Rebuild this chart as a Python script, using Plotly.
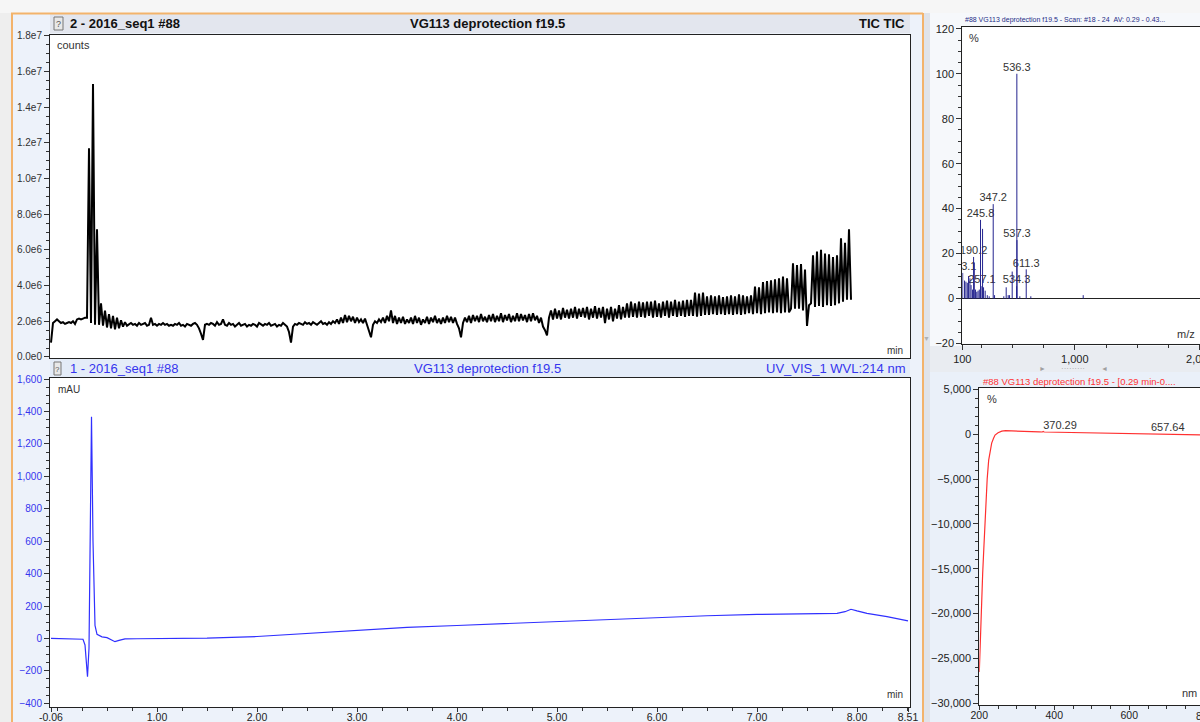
import numpy as np
import plotly.graph_objects as go

W, H = 1200, 722

# total ion current (millions of counts), one scan every 0.02 min from -0.06 min
tic_t0 = -0.06
tic_dt = 0.02
tic_mcounts = [
    0.8, 1.9, 2.0, 2.1, 2.0, 1.9, 1.95, 1.85, 1.9, 1.95, 1.9, 2.0, 1.85, 2.1, 2.15, 2.1, 2.15, 2.2, 2.2, 11.7,
    1.9, 15.3, 1.8, 7.15, 1.8, 3.0, 1.75, 2.6, 1.65, 2.4, 1.6, 2.3, 1.55, 2.2, 1.6, 2.05, 1.7, 1.95, 1.75, 1.85,
    1.9, 1.8, 1.85, 1.75, 1.9, 1.8, 1.85, 1.9, 1.75, 1.8, 2.2, 1.8, 1.85, 1.75, 1.85, 1.8, 1.9, 1.8, 1.85, 1.75,
    1.8, 1.75, 1.85, 1.8, 1.9, 1.75, 1.8, 1.7, 1.85, 1.8, 1.75, 1.85, 1.9, 1.8, 1.6, 1.3, 0.95, 1.8, 1.85, 1.8,
    1.9, 1.85, 1.75, 1.95, 1.8, 1.85, 2.1, 1.8, 1.75, 1.9, 1.8, 1.85, 1.7, 1.8, 1.9, 1.75, 1.8, 1.85, 1.7, 1.8,
    1.75, 1.85, 1.8, 1.7, 1.9, 1.8, 1.75, 1.85, 1.8, 1.9, 1.75, 1.8, 1.85, 1.7, 1.8, 1.75, 1.9, 1.8, 1.7, 1.4,
    0.8, 1.7, 1.85, 1.8, 1.9, 1.85, 1.8, 1.95, 1.85, 1.9, 1.8, 1.95, 1.85, 1.8, 1.9, 2.0, 1.85, 1.9, 1.8, 1.95,
    1.85, 2.0, 1.9, 2.1, 1.85, 2.2, 1.9, 2.35, 1.95, 2.3, 2.0, 2.25, 1.9, 2.2, 1.95, 2.1, 1.9, 2.15, 1.8, 1.5,
    1.1, 1.8, 2.0, 1.9, 2.1, 1.95, 2.2, 1.9, 2.3, 2.0, 2.6, 1.9, 2.3, 1.85, 2.2, 1.9, 2.25, 1.85, 2.1, 1.9,
    2.2, 1.85, 2.3, 1.9, 2.2, 1.8, 2.1, 1.9, 2.25, 1.85, 2.2, 1.95, 2.3, 1.9, 2.15, 1.85, 2.2, 1.9, 2.3, 1.95,
    2.25, 1.9, 2.2, 1.85, 1.6, 1.1, 1.9, 2.2, 1.95, 2.3, 1.9, 2.35, 2.0, 2.3, 1.95, 2.4, 2.0, 2.25, 1.95, 2.35,
    2.0, 2.4, 1.95, 2.3, 2.0, 2.45, 1.95, 2.35, 2.05, 2.4, 1.95, 2.3, 2.0, 2.45, 2.0, 2.4, 2.05, 2.35, 1.95, 2.4,
    2.0, 2.45, 2.05, 2.3, 1.9, 2.2, 1.7, 1.5, 1.2, 2.2, 2.6, 2.1, 2.7, 2.15, 2.6, 2.1, 2.75, 2.2, 2.65, 2.15,
    2.7, 2.2, 2.8, 2.15, 2.7, 2.25, 2.75, 2.2, 2.8, 2.1, 2.7, 2.2, 2.85, 2.15, 2.75, 2.2, 2.8, 1.9, 2.7, 2.1,
    2.8, 2.0, 2.7, 2.15, 2.9, 2.1, 2.8, 2.2, 3.0, 2.2, 3.1, 2.25, 3.0, 2.2, 3.1, 2.25, 3.05, 2.2, 3.1, 2.3,
    3.1, 2.2, 3.15, 2.25, 3.0, 2.2, 3.1, 2.3, 3.15, 2.2, 3.1, 2.3, 3.2, 2.25, 3.1, 2.3, 3.15, 2.25, 3.2, 2.3,
    3.2, 2.3, 3.6, 2.25, 3.55, 2.3, 3.6, 2.35, 3.4, 2.35, 3.45, 2.4, 3.4, 2.35, 3.45, 2.4, 3.35, 2.35, 3.4, 2.4,
    3.45, 2.35, 3.4, 2.4, 3.5, 2.35, 3.45, 2.4, 3.4, 2.45, 3.45, 2.4, 3.94, 2.45, 3.9, 2.4, 4.2, 2.45, 4.25, 2.5,
    4.3, 2.45, 4.35, 2.5, 4.4, 2.45, 4.5, 2.5, 4.4, 2.5, 2.7, 5.25, 2.7, 5.15, 2.7, 5.2, 2.6, 4.9, 1.74, 2.9,
    3.0, 5.7, 2.8, 5.9, 2.85, 6.0, 2.8, 5.8, 2.9, 5.75, 2.85, 5.6, 2.9, 5.7, 3.0, 6.65, 3.1, 6.4, 3.2, 7.15,
    3.2,
]

# UV_VIS_1 chromatogram at 214 nm
uv_time = [-0.06, 0.20, 0.26, 0.28, 0.295, 0.305, 0.32, 0.33, 0.345, 0.36, 0.38, 0.40, 0.45, 0.50,
           0.55, 0.58, 0.62, 0.68, 0.8, 1.0, 1.5, 2.0, 2.5, 3.0, 3.5, 4.0, 4.5, 5.0, 5.5, 6.0,
           6.5, 7.0, 7.5, 7.8, 7.88, 7.94, 8.0, 8.1, 8.3, 8.51]
uv_mau = [0, -2, -5, -40, -200, -236, -60, 700, 1368, 600, 80, 25, 10, 5,
          -10, -20, -12, -3, -2, -1, 2, 12, 30, 52, 68, 80, 92, 103, 115, 130,
          140, 148, 152, 155, 165, 180, 170, 155, 135, 108]
time_ticks = [-0.06, 1, 2, 3, 4, 5, 6, 7, 8, 8.51]

# mass spectrum, scan #18-24
ms_mz = [103.1, 118, 129, 140, 150, 161, 170, 182, 190.2, 196, 206, 216, 226, 236, 245.8, 257.1, 262,
         270, 283, 300, 315, 347.2, 358, 432, 451, 467, 478, 499, 534.3, 536.3, 537.3, 560, 611.3, 648, 1067]
ms_rel = [11.4, 8, 7.5, 7, 10, 9, 6, 4, 18.5, 16, 4, 3, 3.5, 4, 35, 5.5, 31,
          5, 3.5, 1.5, 1, 42, 1.5, 1, 5, 1.5, 1.5, 12, 5.5, 100, 26, 1, 13, 1, 1.5]
ms_labels = [103.1, 190.2, 245.8, 257.1, 347.2, 534.3, 536.3, 537.3, 611.3]

# UV spectrum at the peak
spec_nm = [200, 203, 206, 209, 212, 215, 218, 221, 225, 229, 233, 238, 242, 250, 260, 270, 285, 300,
           322, 340, 360, 368, 370.29, 373, 400, 450, 500, 550, 600, 650, 657.64, 665, 700, 750, 789]
spec_pct = [-26500, -22000, -18000, -15500, -12800, -10000, -7200, -5000, -2900, -1700, -1000, -450,
            -100, 150, 330, 390, 380, 330, 280, 260, 250, 240, 300, 240, 220, 180, 150, 120, 100, 80,
            90, 75, 50, -20, -70]
spec_labels = [370.29, 657.64]

FONT = "Liberation Sans, Arial, sans-serif"
BLUE = "#3535ee"


def px(x):
    return x / W


def py(y):
    return 1 - y / H


def sci(v):
    return f"{v:.1e}".replace("e+0", "e").replace("e+", "e")


tic_time = tic_t0 + tic_dt * np.arange(len(tic_mcounts))
tic_counts = np.array(tic_mcounts) * 1e6

fig = go.Figure()
fig.add_trace(go.Scatter(x=tic_time, y=tic_counts, mode="lines",
                         line=dict(color="black", width=2), xaxis="x", yaxis="y"))
fig.add_trace(go.Scatter(x=uv_time, y=uv_mau, mode="lines",
                         line=dict(color="#3030ff", width=1.2), xaxis="x2", yaxis="y2"))

lab_y = [ms_rel[ms_mz.index(m)] for m in ms_labels]
fig.add_trace(go.Scatter(x=ms_labels, y=lab_y, mode="text", text=[f"{m:.1f}" for m in ms_labels],
                         textposition="top center", cliponaxis=True,
                         textfont=dict(family=FONT, size=11, color="#333"), xaxis="x3", yaxis="y3"))
sx, sy = [], []
for m, r in zip(ms_mz, ms_rel):
    sx += [m, m, None]
    sy += [0, r, None]
fig.add_trace(go.Scatter(x=sx, y=sy, mode="lines", line=dict(color="#24248f", width=1),
                         xaxis="x3", yaxis="y3"))

fig.add_trace(go.Scatter(x=spec_nm, y=spec_pct, mode="lines", line=dict(color="#ff3030", width=1.2),
                         xaxis="x4", yaxis="y4"))
sl_y = [spec_pct[spec_nm.index(v)] for v in spec_labels]
fig.add_trace(go.Scatter(x=spec_labels, y=sl_y, mode="text", text=[f"{v:.2f}" for v in spec_labels],
                         textposition="top right", cliponaxis=True,
                         textfont=dict(family=FONT, size=11, color="#333"), xaxis="x4", yaxis="y4"))

# automargin off: the domains below are exact screen positions
frame = dict(showline=True, mirror=True, linecolor="#222", linewidth=1, showgrid=False,
             zeroline=False, tickcolor="#333", ticks="outside", ticklen=5, automargin=False)
tickfont = dict(family=FONT, size=10, color="#333")
bottom_ticks = dict(ticklen=4, ticklabelstandoff=-4, tickfont=dict(family=FONT, size=10.5, color="#222"))

# plot areas in screen pixels (left, top, right, bottom)
tic_box = (50, 35, 910, 358)
uv_box = (50, 378, 910, 707)
ms_box = (962.3, 27, W, 343.5)
spec_box = (979.3, 388, W, 705)
spec_right = 200 + (W - spec_box[0]) * 200 / 75

fig.update_layout(
    width=W, height=H, autosize=False, margin=dict(l=0, r=0, t=0, b=0),
    paper_bgcolor="#f4f6fa", plot_bgcolor="white", showlegend=False, hovermode=False,
    font=dict(family=FONT),
    xaxis=dict(frame, domain=[px(tic_box[0]), px(tic_box[2])], range=[-0.07, 8.53], anchor="y",
               ticks="", showticklabels=False),
    yaxis=dict(frame, domain=[py(tic_box[3]), py(tic_box[1])], range=[-0.06e6, 18.04e6], anchor="x",
               tickvals=[v * 1e6 for v in range(0, 19, 2)],
               ticktext=[sci(v * 1e6) for v in range(0, 19, 2)], tickfont=tickfont,
               minor=dict(dtick=0.5e6, tick0=0, ticklen=3, ticks="outside", tickcolor="#333")),
    xaxis2=dict(frame, **bottom_ticks, domain=[px(uv_box[0]), px(uv_box[2])], range=[-0.07, 8.53],
                anchor="y2", tickvals=time_ticks, ticktext=[f"{v:.2f}" for v in time_ticks],
                minor=dict(dtick=0.25, tick0=0, ticklen=3, ticks="outside", tickcolor="#333")),
    yaxis2=dict(frame, domain=[py(uv_box[3]), py(uv_box[1])], range=[-423, 1607], anchor="x2",
                dtick=200, tickformat=",", tickfont=dict(family=FONT, size=10, color=BLUE),
                minor=dict(dtick=50, ticklen=3, ticks="outside", tickcolor="#333")),
    xaxis3=dict(frame, domain=[px(ms_box[0]), 1.0], range=[100, 2001], anchor="y3",
                tickvals=[100, 1000, 2000], tickformat=",", ticklabeloverflow="allow",
                tickfont=dict(family=FONT, size=11, color="#222"),
                minor=dict(dtick=250, tick0=0, ticklen=3, ticks="outside", tickcolor="#333")),
    yaxis3=dict(frame, domain=[py(ms_box[3]), py(ms_box[1])], range=[-20, 120.8], anchor="x3",
                dtick=20, tickfont=dict(family=FONT, size=11, color="#222"),
                zeroline=True, zerolinecolor="#222", zerolinewidth=1,
                minor=dict(dtick=5, ticklen=3, ticks="outside", tickcolor="#333")),
    xaxis4=dict(frame, **bottom_ticks, domain=[px(spec_box[0]), 1.0], range=[200, spec_right],
                anchor="y4", dtick=200, tick0=0,
                minor=dict(dtick=50, tick0=0, ticklen=3, ticks="outside", tickcolor="#333")),
    yaxis4=dict(frame, domain=[py(spec_box[3]), py(spec_box[1])], range=[-30190, 5145], anchor="x4",
                dtick=5000, tickformat=",", tickfont=dict(family=FONT, size=11, color="#222"),
                minor=dict(dtick=1000, ticklen=3, ticks="outside", tickcolor="#333")),
)


def rect(x0, y0, x1, y1, fill, line=None):
    fig.add_shape(type="rect", xref="paper", yref="paper", x0=px(x0), x1=px(x1), y0=py(y1), y1=py(y0),
                  fillcolor=fill, line=dict(width=1 if line else 0, color=line or fill), layer="below")


def hline(x0, x1, y, color, width=2):
    fig.add_shape(type="line", xref="paper", yref="paper", x0=px(x0), x1=px(x1), y0=py(y), y1=py(y),
                  line=dict(color=color, width=width), layer="above")


def vline(x, y0, y1, color, width=2):
    fig.add_shape(type="line", xref="paper", yref="paper", x0=px(x), x1=px(x), y0=py(y0), y1=py(y1),
                  line=dict(color=color, width=width), layer="above")


# window chrome
rect(0, 0, W, 13, "#f6f6f6")
rect(0, 13, 12, H, "#eeeeee")
rect(12, 13, 923, H, "#edf2fa")
rect(50, 14, 910, 33, "#e3e6ee")
rect(50, 359, 910, 377, "#e4ecf8")
rect(923, 13, 930, H, "#e0e3e9")
rect(930, 13, W, 346, "#f6f8fb")
rect(930, 346, W, 372, "#e9ecf1")
rect(930, 372, W, H, "#eaf0f9")
# white plotting areas on top of the panel backgrounds
for box in (tic_box, uv_box, ms_box, spec_box):
    rect(*box, "white")
hline(11, 923, 13.5, "#f3b36b")
vline(12, 13, H, "#f3b36b")
vline(923, 13, H, "#f3b36b")

# document icons in the chromatogram headers
rect(54, 17, 63, 30, "#e8e8e8", "#777")
rect(54, 362, 61, 375, "#e8e8e8", "#777")


def text(x, y, s, size=10, color="#333", anchor="left", vanchor="middle", bold=False):
    fig.add_annotation(xref="paper", yref="paper", x=px(x), y=py(y), text=f"<b>{s}</b>" if bold else s,
                       showarrow=False, xanchor=anchor, yanchor=vanchor,
                       font=dict(family=FONT, size=size, color=color))


text(58.5, 24, "?", 9, "#555", "center")
text(57.5, 369, "?", 8, "#555", "center")
text(68, 23.5, "2 - 2016_seq1 #88", 13, "#111", bold=True)
text(487, 23.5, "VG113 deprotection f19.5", 13, "#111", "center", bold=True)
text(907, 23.5, "TIC TIC", 13, "#111", "right", bold=True)
text(68, 368.5, "1 - 2016_seq1 #88", 13, BLUE)
text(487, 368.5, "VG113 deprotection f19.5", 13, BLUE, "center")
text(907, 368.5, "UV_VIS_1 WVL:214 nm", 13, BLUE, "right")

text(55, 44.5, "counts", 11)
text(905, 350, "min", 10, anchor="right")
text(56, 389, "mAU", 10)
text(905, 694, "min", 10, anchor="right")

text(963, 20, "#88 VG113 deprotection f19.5 - Scan: #18 - 24 \u00a0AV: 0.29 - 0.43...", 7, "#1e2c86")
text(967, 38, "%", 11)
text(1197, 334, "m/z", 11, anchor="right")

text(981, 381.5, "#88 VG113 deprotection f19.5 - [0.29 min-0....", 9.5, "#ff3333")
text(985, 398.5, "%", 11)
text(1199, 693, "nm", 11, anchor="right")
text(1204.5, 715.5, "800", 10.5, "#222", "center")

text(1042, 368, "\u25ba", 7, "#a0a0a0", "center")
text(1073, 368, "\u00b7\u00b7\u00b7\u00b7\u00b7\u00b7\u00b7\u00b7\u00b7", 8, "#a0a0a0", "center")
text(1104, 368, "\u25c4", 7, "#a0a0a0", "center")
text(926.5, 338, "\u25bc", 7, "#b0b0b0", "center")

fig.write_html("out.html", config={"displayModeBar": False},
               post_script="document.body.style.margin='0';")
